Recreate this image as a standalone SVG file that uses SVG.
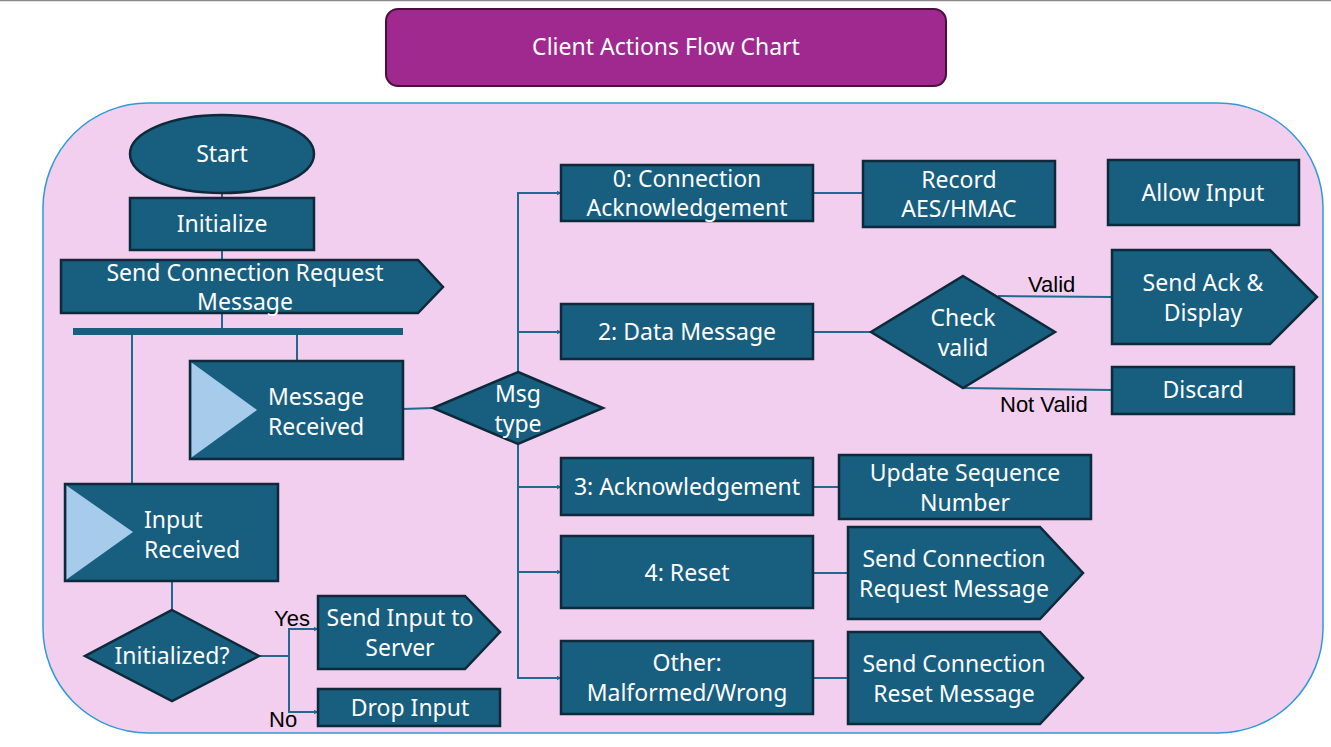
<svg xmlns="http://www.w3.org/2000/svg" width="1331" height="747" viewBox="0 0 1331 747">
<style>
.n{fill:#175E7F;stroke:#0E2A3A;stroke-width:2.5}
.t{font-family:"Noto Sans","Open Sans",sans-serif;font-size:23px;fill:#FFFFFF;text-anchor:middle}
.tl{font-family:"Noto Sans","Open Sans",sans-serif;font-size:23px;fill:#FFFFFF}
.lb{font-family:"Liberation Sans",Arial,sans-serif;font-size:22px;fill:#000000}
.c{fill:none;stroke:#1F6A8E;stroke-width:2}
.tri{fill:#A7CBEB;stroke:none}
</style>
<defs>
<marker id="ah" viewBox="0 0 10 10" refX="9" refY="5" markerWidth="5" markerHeight="5" orient="auto" markerUnits="userSpaceOnUse">
<path d="M0,0 L10,5 L0,10 z" fill="#1F6A8E"/>
</marker>
</defs>
<rect x="0" y="0" width="1331" height="747" fill="#FFFFFF"/>
<line x1="0" y1="0.5" x2="1331" y2="0.5" stroke="#8A8A8A" stroke-width="1.5"/>
<g id="title">
<rect x="386" y="9" width="560" height="77" rx="12" fill="#A0298F" stroke="#4A0F40" stroke-width="2"/>
<text x="666" y="55" font-family="'Noto Sans','Open Sans',sans-serif" font-size="23" fill="#FFFFFF" text-anchor="middle">Client Actions Flow Chart</text>
</g>
<g id="container">
<rect x="43" y="103" width="1280" height="630" rx="105" fill="#F2CFEE" stroke="#2E9BD6" stroke-width="1.5"/>
</g>
<g id="connectors">
<line class="c" x1="222" y1="193" x2="222" y2="198"/>
<line class="c" x1="222" y1="250" x2="222" y2="260"/>
<line class="c" x1="222" y1="313" x2="222" y2="328"/>
<line class="c" x1="132" y1="335" x2="132" y2="484"/>
<line class="c" x1="297" y1="335" x2="297" y2="361"/>
<line class="c" x1="172" y1="581" x2="172" y2="610"/>
<polyline class="c" points="259,656 289,656 289,629 318,629" marker-end="url(#ah)"/>
<polyline class="c" points="289,656 289,712 318,712" marker-end="url(#ah)"/>
<line class="c" x1="403" y1="409" x2="433" y2="408"/>
<polyline class="c" points="518,372 518,193 561,193" marker-end="url(#ah)"/>
<line class="c" x1="518" y1="332" x2="561" y2="332" marker-end="url(#ah)"/>
<polyline class="c" points="518,444 518,678 561,678" marker-end="url(#ah)"/>
<line class="c" x1="518" y1="487" x2="561" y2="487" marker-end="url(#ah)"/>
<line class="c" x1="518" y1="572" x2="561" y2="572" marker-end="url(#ah)"/>
<line class="c" x1="813" y1="193" x2="863" y2="193"/>
<line class="c" x1="813" y1="332" x2="871" y2="332"/>
<line class="c" x1="998" y1="296" x2="1112" y2="297"/>
<line class="c" x1="963" y1="388" x2="1112" y2="390"/>
<line class="c" x1="813" y1="487" x2="839" y2="487"/>
<line class="c" x1="813" y1="573" x2="848" y2="573"/>
<line class="c" x1="813" y1="678" x2="848" y2="678"/>
<text class="lb" x="274" y="626">Yes</text>
<text class="lb" x="269" y="727">No</text>
<text class="lb" x="1028" y="292">Valid</text>
<text class="lb" x="1000" y="412">Not Valid</text>
</g>
<g id="start">
<ellipse class="n" cx="222" cy="154" rx="92" ry="39"/>
<text class="t" x="222" y="162">Start</text>
</g>
<g id="initialize">
<rect class="n" x="130" y="198" width="184" height="52"/>
<text class="t" x="222" y="232">Initialize</text>
</g>
<g id="send-conn-req">
<polygon class="n" points="61,260 418,260 443,287 418,313 61,313"/>
<text class="t" x="245" y="281">Send Connection Request</text>
<text class="t" x="245" y="310">Message</text>
</g>
<g id="fork-bar">
<rect x="73" y="328" width="330" height="7" fill="#175E7F"/>
</g>
<g id="message-received">
<rect class="n" x="190" y="361" width="213" height="98"/>
<polygon class="tri" points="191.5,362.5 257,410 191.5,457.5"/>
<text class="tl" x="268" y="405">Message</text>
<text class="tl" x="268" y="435">Received</text>
</g>
<g id="input-received">
<rect class="n" x="65" y="484" width="213" height="97"/>
<polygon class="tri" points="66.5,485.5 133,532 66.5,579.5"/>
<text class="tl" x="144" y="528">Input</text>
<text class="tl" x="144" y="558">Received</text>
</g>
<g id="initialized">
<polygon class="n" points="172,610 259,656 172,701 85,656"/>
<text class="t" x="172" y="664">Initialized?</text>
</g>
<g id="send-input">
<polygon class="n" points="318,596 465,596 500,632 465,669 318,669"/>
<text class="t" x="400" y="626">Send Input to</text>
<text class="t" x="400" y="656">Server</text>
</g>
<g id="drop-input">
<rect class="n" x="318" y="689" width="182" height="37"/>
<text class="t" x="410" y="716">Drop Input</text>
</g>
<g id="msg-type">
<polygon class="n" points="518,372 603,408 518,444 433,408"/>
<text class="t" x="518" y="402">Msg</text>
<text class="t" x="518" y="432">type</text>
</g>
<g id="conn-ack">
<rect class="n" x="561" y="165" width="252" height="56"/>
<text class="t" x="687" y="187">0: Connection</text>
<text class="t" x="687" y="216">Acknowledgement</text>
</g>
<g id="data-msg">
<rect class="n" x="561" y="304" width="252" height="55"/>
<text class="t" x="687" y="340">2: Data Message</text>
</g>
<g id="ack">
<rect class="n" x="561" y="458" width="252" height="57"/>
<text class="t" x="687" y="495">3: Acknowledgement</text>
</g>
<g id="reset">
<rect class="n" x="561" y="536" width="252" height="72"/>
<text class="t" x="687" y="581">4: Reset</text>
</g>
<g id="other">
<rect class="n" x="561" y="641" width="252" height="73"/>
<text class="t" x="687" y="671">Other:</text>
<text class="t" x="687" y="701">Malformed/Wrong</text>
</g>
<g id="record">
<rect class="n" x="863" y="161" width="192" height="66"/>
<text class="t" x="959" y="188">Record</text>
<text class="t" x="959" y="217">AES/HMAC</text>
</g>
<g id="allow-input">
<rect class="n" x="1108" y="160" width="191" height="65"/>
<text class="t" x="1203" y="201">Allow Input</text>
</g>
<g id="check-valid">
<polygon class="n" points="963,276 1055,332 963,388 871,332"/>
<text class="t" x="963" y="326">Check</text>
<text class="t" x="963" y="356">valid</text>
</g>
<g id="send-ack">
<polygon class="n" points="1112,250 1270,250 1317,297 1270,344 1112,344"/>
<text class="t" x="1203" y="291">Send Ack &amp;</text>
<text class="t" x="1203" y="321">Display</text>
</g>
<g id="discard">
<rect class="n" x="1112" y="367" width="182" height="47"/>
<text class="t" x="1203" y="398">Discard</text>
</g>
<g id="update-seq">
<rect class="n" x="839" y="455" width="252" height="64"/>
<text class="t" x="965" y="481">Update Sequence</text>
<text class="t" x="965" y="511">Number</text>
</g>
<g id="send-conn-req-2">
<polygon class="n" points="848,527 1040,527 1083,573 1040,619 848,619"/>
<text class="t" x="954" y="567">Send Connection</text>
<text class="t" x="954" y="597">Request Message</text>
</g>
<g id="send-conn-reset">
<polygon class="n" points="848,632 1040,632 1083,678 1040,724 848,724"/>
<text class="t" x="954" y="672">Send Connection</text>
<text class="t" x="954" y="702">Reset Message</text>
</g>
</svg>
